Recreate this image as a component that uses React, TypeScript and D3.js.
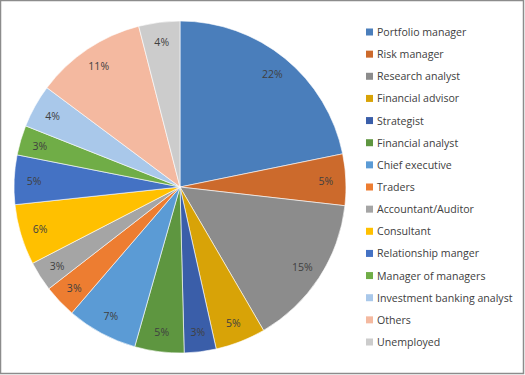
import React from "react";
import * as d3 from "d3";

const categories = [
  "Portfolio manager",
  "Risk manager",
  "Research analyst",
  "Financial advisor",
  "Strategist",
  "Financial analyst",
  "Chief executive",
  "Traders",
  "Accountant/Auditor",
  "Consultant",
  "Relationship manger",
  "Manager of managers",
  "Investment banking analyst",
  "Others",
  "Unemployed",
];

const values = [21.8, 5.0, 14.8, 4.9, 3.1, 4.8, 6.9, 3.2, 2.9, 5.9, 4.8, 2.9, 4.2, 10.8, 4.0];

const colors = [
  "#4a7ebb",
  "#cc6a2c",
  "#8c8c8c",
  "#d8a307",
  "#3a5ea9",
  "#5e9640",
  "#5b9bd5",
  "#ed7d31",
  "#a5a5a5",
  "#ffc000",
  "#4472c4",
  "#70ad47",
  "#a9c8ea",
  "#f4b9a0",
  "#cccccc",
];

export default function App() {
  const W = 525;
  const H = 375;
  const cx = 180;
  const cy = 187;
  const R = 166;
  const labelR = 146;

  const total = d3.sum(values);
  const pie = d3.pie<number>().sort(null).value((d) => d);
  const arcs = pie(values);
  const arc = d3.arc<d3.PieArcDatum<number>>().innerRadius(0).outerRadius(R);
  const labelArc = d3.arc<d3.PieArcDatum<number>>().innerRadius(labelR).outerRadius(labelR);

  const legendY = d3
    .scalePoint<string>()
    .domain(categories)
    .range([32, 342]);

  const font = "'Open Sans', 'Noto Sans', sans-serif";

  return (
    <svg
      width={W}
      height={H}
      style={{ position: "absolute", left: 0, top: 0, background: "#fff" }}
    >
      <rect x={0.5} y={0.5} width={523} height={373} fill="#fff" stroke="#8c8c8c" strokeWidth={1.5} />
      <g transform={`translate(${cx},${cy})`}>
        {arcs.map((a, i) => (
          <path key={i} d={arc(a) || ""} fill={colors[i]} stroke="#ffffff" strokeWidth={0.6} />
        ))}
        {arcs.map((a, i) => {
          const [x, y] = labelArc.centroid(a);
          return (
            <text
              key={"l" + i}
              x={x}
              y={y}
              textAnchor="middle"
              dominantBaseline="central"
              fontFamily={font}
              fontSize={10.5}
              fill="#404040"
            >
              {Math.round((values[i] / total) * 100)}%
            </text>
          );
        })}
      </g>
      <g>
        {categories.map((c, i) => {
          const y = legendY(c) as number;
          return (
            <g key={c}>
              <rect x={366} y={y - 3.5} width={7} height={7} fill={colors[i]} />
              <text
                x={377}
                y={y}
                dominantBaseline="central"
                fontFamily={font}
                fontSize={10.6}
                fill="#404040"
              >
                {c}
              </text>
            </g>
          );
        })}
      </g>
    </svg>
  );
}
